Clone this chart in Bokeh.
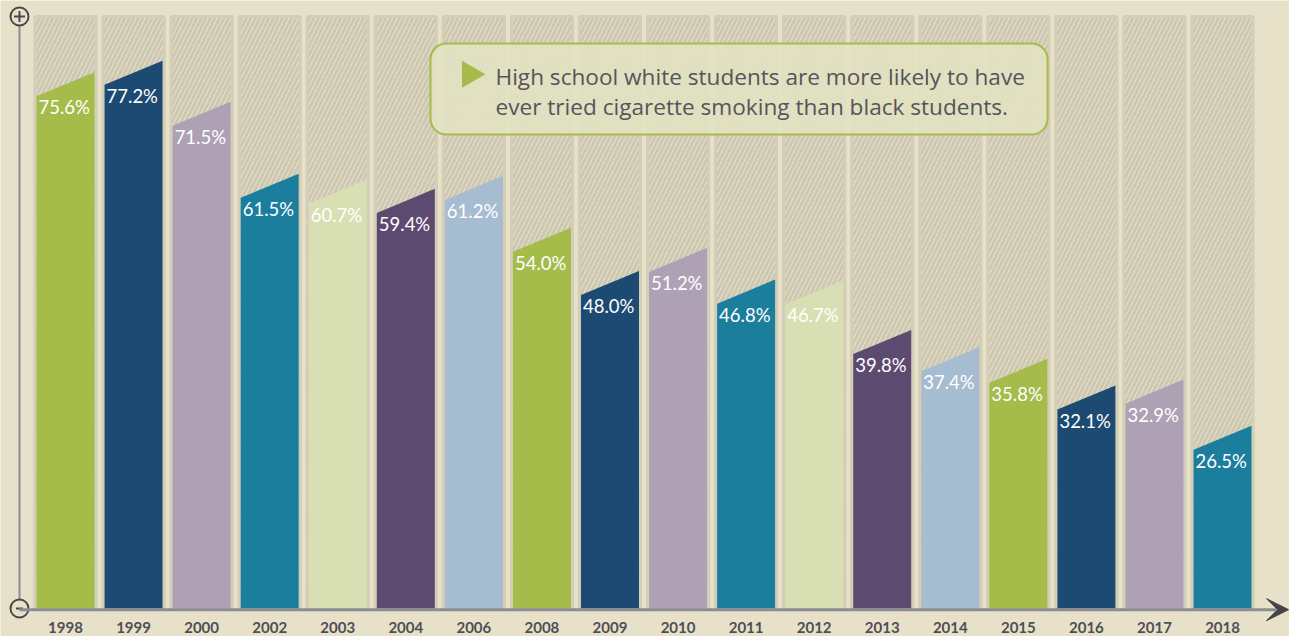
from bokeh.plotting import figure
from bokeh.models import Range1d, Arrow, VeeHead, ColumnDataSource
from bokeh.core.properties import value
from bokeh.embed import file_html
from bokeh.resources import INLINE

# ---- data ----
years = ["1998", "1999", "2000", "2002", "2003", "2004", "2006", "2008", "2009",
         "2010", "2011", "2012", "2013", "2014", "2015", "2016", "2017", "2018"]
values = [75.6, 77.2, 71.5, 61.5, 60.7, 59.4, 61.2, 54.0, 48.0,
          51.2, 46.8, 46.7, 39.8, 37.4, 35.8, 32.1, 32.9, 26.5]
palette = ["#a5bb4a", "#1d4a72", "#aea1b5", "#1c7e9d", "#d8dfb3", "#5c4a70", "#a6bcd1"]
note_lines = ["High school white students are more likely to have",
              "ever tried cigarette smoking than black students."]

BG = "#e7e1c9"
W, H = 1289, 636

p = figure(width=W, height=H, output_backend="svg", toolbar_location=None,
           x_range=Range1d(-0.955, 17.984), y_range=Range1d(-2.778, 85.556),
           x_axis_location=None, y_axis_location=None, min_border=0,
           background_fill_color=BG, border_fill_color=BG, outline_line_color=None)
p.grid.visible = False

n = len(values)
xs_idx = list(range(n))
bar_w = 0.852
bg_w = 0.90
base = 1.11
top_bg = 83.33
slant = 3.35

# background hatched bars
p.vbar(x=xs_idx, width=bg_w, bottom=base, top=top_bg,
       fill_color="#e4dfcb", line_color="#d4ceb7", line_width=3,
       hatch_pattern="right_diagonal_line", hatch_color="#cdc7b1",
       hatch_weight=3, hatch_scale=9)

# coloured bars with slanted tops
colors = [palette[i % len(palette)] for i in range(n)]
pxs, pys = [], []
for i, v in enumerate(values):
    l, r = i - bar_w / 2, i + bar_w / 2
    pxs.append([l, l, r, r])
    pys.append([base, v - slant, v, base])
p.patches(xs=pxs, ys=pys, fill_color=colors, line_color=None)

# percentage labels
lab_src = ColumnDataSource(dict(
    x=[i - bar_w / 2 for i in xs_idx],
    y=[v - slant for v in values],
    t=[f"{v:.1f}%" for v in values]))
p.text(x="x", y="y", text="t", source=lab_src, text_color="white",
       text_font=value("Lato"), text_font_size="18.5px",
       text_baseline="middle", text_align="left", x_offset=2, y_offset=11)

# year labels
p.text(x=xs_idx, y=[base] * n, text=years, text_color="#4f4f55",
       text_font=value("Lato"), text_font_style="bold", text_font_size="15px",
       text_baseline="middle", text_align="center", y_offset=19)

# axes decoration
ax_x = -0.676
p.segment(x0=[ax_x], y0=[base], x1=[ax_x], y1=[top_bg], line_color="#8c8c95", line_width=2)
p.add_layout(Arrow(x_start=ax_x, y_start=0.95, x_end=17.97, y_end=0.95,
                   line_color="#8c8c95", line_width=3,
                   end=VeeHead(size=22, fill_color="#444448", line_color="#444448")))
p.scatter(x=[ax_x, ax_x], y=[top_bg, base], marker="circle", size=18,
          fill_color=BG, line_color="#48484c", line_width=2)
p.scatter(x=[ax_x], y=[top_bg], marker="cross", size=11, line_color="#48484c", line_width=2)
p.scatter(x=[ax_x], y=[base], marker="dash", size=7, line_color="#48484c", line_width=2)

# note box (glyph so that it stays beneath its text)
p.quad(left=[5.363], right=[14.43], bottom=[66.94], top=[79.58],
       fill_color="#e2e3c2", fill_alpha=0.88,
       line_color="#a5bb4a", line_width=2, border_radius=16)
p.scatter(x=[5.94], y=[75.3], marker="triangle", angle=-1.5708, size=27,
          fill_color="#a5bb4a", line_color=None)
p.text(x=[6.318, 6.318], y=[75.0, 70.83], text=note_lines, text_color="#55555a",
       text_font=value("Open Sans"), text_font_size="22.6px",
       text_baseline="middle", text_align="left")

html = file_html(p, INLINE)
html = html.replace("<body>", '<body style="background-color:%s;">' % BG, 1)
open("out.html", "w").write(html)
